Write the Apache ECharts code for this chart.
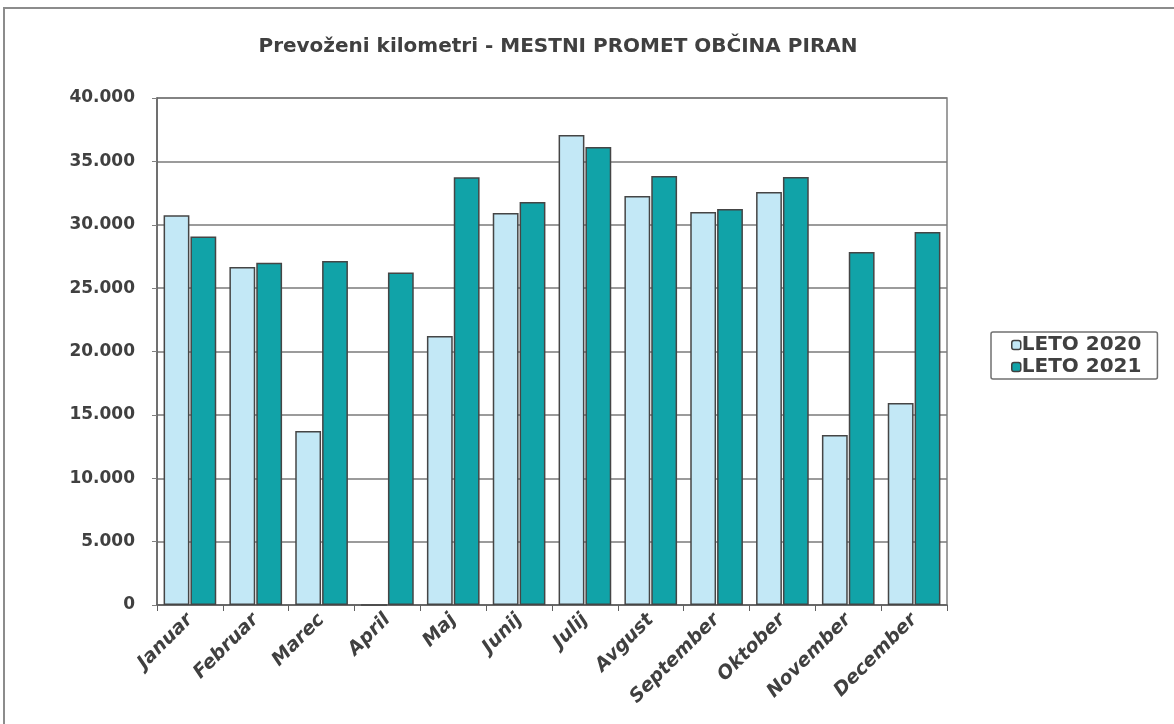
<!DOCTYPE html>
<html>
<head>
<meta charset="utf-8">
<script src="https://cdn.jsdelivr.net/npm/echarts@6/dist/echarts.min.js"></script>
<style>
  html, body { margin: 0; padding: 0; background: #fff; }
  #main { width: 1174px; height: 724px; }
</style>
</head>
<body>
<div id="main"></div>
<script>
const months = ['Januar', 'Februar', 'Marec', 'April', 'Maj', 'Junij', 'Julij', 'Avgust', 'September', 'Oktober', 'November', 'December']
const leto2020 = [30740, 26670, 13730, 0, 21220, 30930, 37080, 32270, 31000, 32580, 13410, 15940]
const leto2021 = [29080, 27010, 27140, 26240, 33740, 31800, 36130, 33850, 31240, 33770, 27850, 29430]
const yTicks = [0, 5000, 10000, 15000, 20000, 25000, 30000, 35000, 40000]

const chart = echarts.init(document.getElementById('main'))

const fmt = (v) => (v === 0 ? '0' : v.toLocaleString('de-DE'))

const option = {
  animation: false,
  backgroundColor: '#fff',
  textStyle: { fontFamily: 'DejaVu Sans, sans-serif' },
  graphic: [
    {
      type: 'rect',
      shape: { x: 4, y: 8, width: 1180, height: 730 },
      style: { fill: 'none', stroke: '#8c8c8c', lineWidth: 2 },
    },
  ],
  title: {
    text: 'Prevoženi kilometri - MESTNI PROMET OBČINA PIRAN',
    left: 553,
    textAlign: 'center',
    top: 32,
    textStyle: { fontSize: 20, fontWeight: 'bold', color: '#404040', fontFamily: 'DejaVu Sans' },
  },
  legend: {
    orient: 'vertical',
    left: 991,
    top: 332,
    padding: [3, 16, 2, 20],
    itemGap: 2,
    itemWidth: 9,
    itemHeight: 9,
    borderColor: '#707070',
    borderWidth: 1.5,
    borderRadius: 2,
    textStyle: { fontSize: 20, fontWeight: 'bold', color: '#404040', fontFamily: 'DejaVu Sans', padding: [0, 0, 0, -4] },
    data: [
      { name: 'LETO 2020', itemStyle: { borderColor: '#404040', borderWidth: 1.5 } },
      { name: 'LETO 2021', itemStyle: { borderColor: '#404040', borderWidth: 1.5 } },
    ],
  },
  grid: {
    left: 157,
    top: 98,
    width: 790,
    height: 507,
    show: true,
    borderColor: '#808080',
    borderWidth: 1.5,
  },
  xAxis: {
    type: 'category',
    data: months,
    axisLine: { lineStyle: { color: '#606060', width: 1.5 } },
    axisTick: { show: true, length: 6, lineStyle: { color: '#606060' } },
    axisLabel: {
      rotate: 45,
      interval: 0,
      margin: 12,
      fontSize: 19,
      fontWeight: 'bold',
      fontStyle: 'italic',
      color: '#404040',
    },
  },
  yAxis: {
    type: 'value',
    min: 0,
    max: 40000,
    interval: 5000,
    axisLine: { show: true, lineStyle: { color: '#606060', width: 1.5 } },
    axisTick: { show: true, length: 5, lineStyle: { color: '#808080' } },
    splitLine: { lineStyle: { color: '#7a7a7a', width: 1.5 } },
    axisLabel: {
      fontSize: 17,
      fontWeight: 'bold',
      color: '#404040',
      margin: 22,
      formatter: (v) => (yTicks.includes(v) ? fmt(v) : ''),
    },
  },
  series: [
    {
      name: 'LETO 2020',
      type: 'bar',
      data: leto2020,
      barGap: '4%',
      barCategoryGap: '20%',
      itemStyle: { color: '#c3e8f6', borderColor: '#454545', borderWidth: 1.5 },
    },
    {
      name: 'LETO 2021',
      type: 'bar',
      data: leto2021,
      itemStyle: { color: '#11a3a8', borderColor: '#454545', borderWidth: 1.5 },
    },
  ],
}

chart.setOption(option)
</script>
</body>
</html>
